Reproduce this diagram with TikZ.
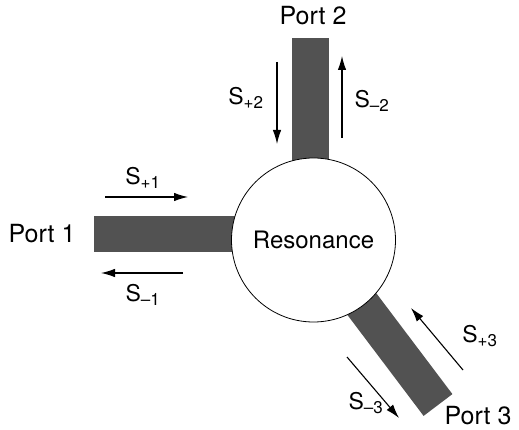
\documentclass[tikz,border=0pt]{standalone}
\usepackage{fontspec}
\setmainfont{TeX Gyre Heros}
\usetikzlibrary{arrows.meta,calc}
\newcommand{\Ssub}[1]{S\textsubscript{\fontsize{17}{17}\selectfont #1}}
\tikzset{
  bar/.style={fill=black!68, draw=none},
  flow/.style={-{Latex[length=14pt,width=8.5pt]}, line width=1.1pt},
  lbl/.style={font=\fontsize{23}{23}\selectfont, inner sep=0pt},
  portlbl/.style={font=\fontsize{25}{25}\selectfont, inner sep=0pt},
}
\begin{document}
\begin{tikzpicture}[x=1pt,y=-1pt]
\useasboundingbox (0,0) rectangle (519,430);
% centre of resonator
\coordinate (c) at (313.5,240);
% bars
\fill[bar] (94,216) rectangle (313,252);
\fill[bar] (292,38) rectangle (329,240);
\coordinate (e3) at (438,405);
\fill[bar] ($(c)+(14.4,-10.9)$) -- ($(e3)+(14.4,-10.9)$) -- ($(e3)+(-14.4,10.9)$) -- ($(c)+(-14.4,10.9)$) -- cycle;
% resonator
\node[circle, draw, line width=0.8pt, fill=white, minimum size=164pt, inner sep=0pt, font=\fontsize{24}{24}\selectfont] (res) at (c) {Resonance};
% port labels
\node[portlbl] (p1) at (42,234) {Port 1};
\node[portlbl] (p2) at (313,16) {Port 2};
\node[portlbl] (p3) at (478,416) {Port 3};
% arrow end points
\coordinate (a1s) at (105,197); \coordinate (a1e) at (188,197);
\coordinate (b1s) at (183,273); \coordinate (b1e) at (101,273);
\coordinate (a2s) at (277,62); \coordinate (a2e) at (277,144);
\coordinate (b2s) at (342,138); \coordinate (b2e) at (342,56);
\coordinate (a3s) at (463,370); \coordinate (a3e) at (411,308);
\coordinate (b3s) at (347,357); \coordinate (b3e) at (399,418);
\draw[flow] (a1s) -- (a1e);
\draw[flow] (b1s) -- (b1e);
\draw[flow] (a2s) -- (a2e);
\draw[flow] (b2s) -- (b2e);
\draw[flow] (a3s) -- (a3e);
\draw[flow] (b3s) -- (b3e);
% flow labels
\node[lbl] (s1p) at (143,178) {\Ssub{+1}};
\node[lbl] (s1m) at (143,295) {\Ssub{–1}};
\node[lbl] (s2p) at (246,98) {\Ssub{+2}};
\node[lbl] (s2m) at (372,101) {\Ssub{–2}};
\node[lbl] (s3p) at (480,336) {\Ssub{+3}};
\node[lbl] (s3m) at (366,403) {\Ssub{–3}};
\end{tikzpicture}
\end{document}
